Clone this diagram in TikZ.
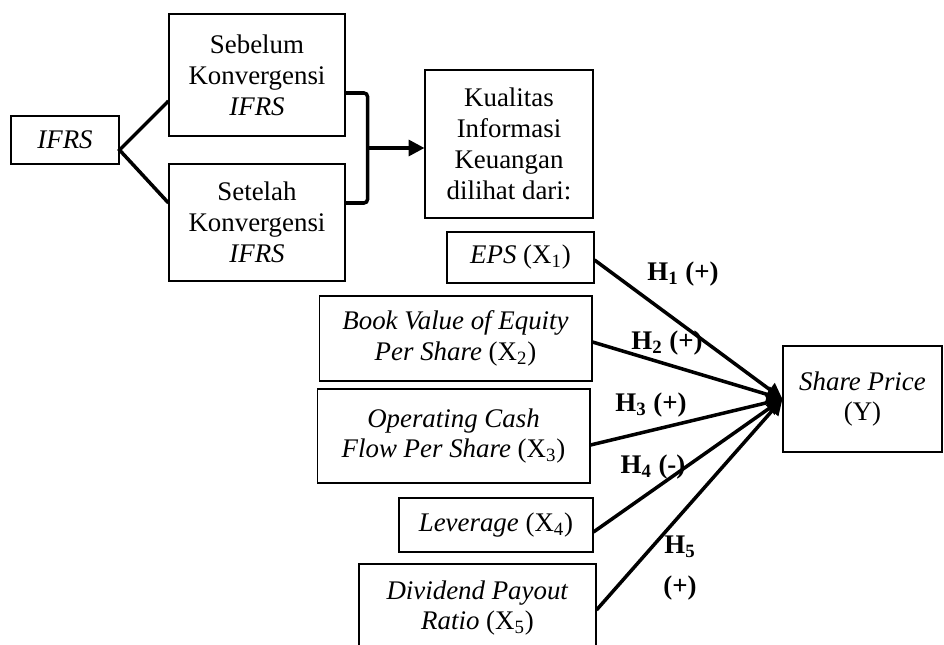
\documentclass[tikz,border=0pt]{standalone}
\usepackage{fontspec}
\setmainfont{Liberation Serif}
\usetikzlibrary{arrows.meta,calc}
\tikzset{
  box/.style={draw, line width=0.6pt, align=center, inner sep=0pt, font=\fontsize{15.3}{17.6}\selectfont},
  conn/.style={line width=2pt},
  arr/.style={conn, -{Triangle[length=9pt,width=9pt]}},
  hlab/.style={font=\fontsize{15.3}{17.6}\selectfont\bfseries, inner sep=0pt, align=center}
}
\begin{document}
\begin{tikzpicture}[x=0.02cm,y=-0.02cm]
\useasboundingbox (0,0) rectangle (944,645);
\clip (0,0) rectangle (944,645);
\fill[white] (0,0) rectangle (944,645);

\node[box, minimum width=2.16cm, minimum height=0.96cm] (ifrs) at (65,140) {\textit{IFRS}};
\node[box, minimum width=3.52cm, minimum height=2.44cm] (seb) at (257,75) {Sebelum\\Konvergensi\\\textit{IFRS}};
\node[box, minimum width=3.52cm, minimum height=2.34cm] (set) at (257,222.5) {Setelah\\Konvergensi\\\textit{IFRS}};
\node[box, minimum width=3.36cm, minimum height=2.96cm] (kual) at (509,144) {Kualitas\\Informasi\\Keuangan\\dilihat dari:};

\node[box, minimum width=2.94cm, minimum height=1.02cm] (eps) at (520.5,257.5) {\textit{EPS} (X\textsubscript{1})};
\node[box, minimum width=5.46cm, minimum height=1.70cm] (bv) at (455.5,338.5) {\textit{Book Value of Equity}\\\textit{Per Share} (X\textsubscript{2})};
\node[box, minimum width=5.46cm, minimum height=1.88cm] (ocf) at (453.5,436) {\textit{Operating Cash}\\\textit{Flow Per Share} (X\textsubscript{3})};
\node[box, minimum width=3.88cm, minimum height=1.08cm] (lev) at (496,525) {\textit{Leverage} (X\textsubscript{4})};
\node[box, minimum width=4.74cm, minimum height=1.76cm] (div) at (477.5,608) {\textit{Dividend Payout}\\\textit{Ratio} (X\textsubscript{5})};

\node[box, minimum width=3.18cm, minimum height=2.12cm] (sp) at (862.5,399) {\textit{Share Price}\\(Y)};

% IFRS split
\coordinate (ap) at ([yshift=-0.2cm]ifrs.east);
\draw[conn] ([yshift=-0.52cm]seb.west) -- (ap) -- ([yshift=0.39cm]set.west);

% bracket
\draw[conn, rounded corners=2pt] ([yshift=-0.36cm]seb.east) -- ++(22,0) coordinate (bt) |- ([yshift=0.39cm]set.east) coordinate (bbx);
\coordinate (bb) at (bt |- bbx);
\coordinate (bm) at ($(bt)!0.5!(bb)$);
\draw[arr] (bm) -- (bm -| kual.west);

% hypotheses
\draw[arr] ([yshift=-0.05cm]eps.east) -- (sp.west);
\draw[arr] ([yshift=-0.07cm]bv.east) -- (sp.west);
\draw[arr] ([yshift=-0.18cm]ocf.east) -- (sp.west);
\draw[arr] ([yshift=-0.14cm]lev.east) -- (sp.west);
\draw[arr] ([yshift=-0.04cm]div.east) -- (sp.west);

\node[hlab] (h1) at (683,274) {H\textsubscript{1} (+)};
\node[hlab] (h2) at (667,343) {H\textsubscript{2} (+)};
\node[hlab] (h3) at (651,405) {H\textsubscript{3} (+)};
\node[hlab] (h4) at (653,467) {H\textsubscript{4} (-)};
\node[hlab] (h5) at (680,568) {H\textsubscript{5}\\[6pt](+)};
\end{tikzpicture}
\end{document}
